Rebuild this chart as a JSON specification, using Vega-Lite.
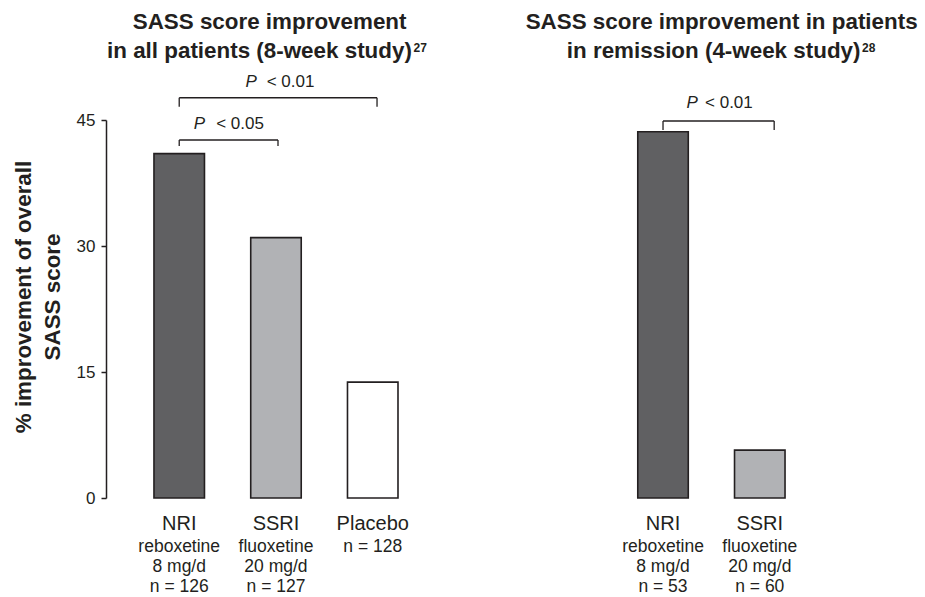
{
  "$schema": "https://vega.github.io/schema/vega-lite/v6.json",
  "width": 727,
  "height": 378,
  "autosize": "none",
  "padding": {"left": 106, "top": 120, "right": 92, "bottom": 99},
  "config": {"font": "Liberation Sans", "view": {"stroke": null}, "text": {"color": "#231f20"}},
  "datasets": {
    "bars": [
      {"study": "All patients (8-week study)", "slot": "L1", "group": "NRI", "sub": "reboxetine\n8 mg/d\nn = 126", "improvement": 41},
      {"study": "All patients (8-week study)", "slot": "L2", "group": "SSRI", "sub": "fluoxetine\n20 mg/d\nn = 127", "improvement": 31},
      {"study": "All patients (8-week study)", "slot": "L3", "group": "Placebo", "sub": "n = 128", "improvement": 13.8},
      {"study": "Patients in remission (4-week study)", "slot": "R1", "group": "NRI", "sub": "reboxetine\n8 mg/d\nn = 53", "improvement": 43.6},
      {"study": "Patients in remission (4-week study)", "slot": "R2", "group": "SSRI", "sub": "fluoxetine\n20 mg/d\nn = 60", "improvement": 5.7}
    ]
  },
  "data": {"name": "bars"},
  "encoding": {
    "x": {"field": "slot", "type": "nominal", "scale": {"type": "band", "domain": ["L1", "L2", "L3", "G1", "G2", "R1", "R2"], "paddingInner": 0.478, "paddingOuter": 0.4957}, "axis": null}
  },
  "layer": [
    {
      "mark": {"type": "bar", "stroke": "#231f20", "strokeWidth": 1.6},
      "encoding": {
        "y": {
          "field": "improvement", "type": "quantitative",
          "scale": {"domain": [0, 45], "nice": false, "zero": true},
          "axis": {
            "values": [0, 15, 30, 45], "grid": false,
            "title": ["% improvement of overall", "SASS score"],
            "titleFontSize": 22.4, "titleFontWeight": "bold", "titleColor": "#231f20",
            "titleLineHeight": 29, "titleX": -75.5, "titleY": 176.5, "titleBaseline": "alphabetic",
            "titleFont": "Liberation Sans",
            "labelFont": "Liberation Sans", "labelFontSize": 17, "labelColor": "#231f20", "labelPadding": 6,
            "tickSize": 5, "tickColor": "#231f20", "tickWidth": 1.5,
            "domainColor": "#231f20", "domainWidth": 1.5
          }
        },
        "fill": {"field": "group", "type": "nominal", "scale": {"domain": ["NRI", "SSRI", "Placebo"], "range": ["#606062", "#b1b2b5", "#ffffff"]}, "legend": null}
      }
    },
    {
      "mark": {"type": "text", "fontSize": 20, "baseline": "alphabetic", "dy": 32},
      "encoding": {
        "y": {"datum": 0, "type": "quantitative", "scale": {"domain": [0, 45], "nice": false, "zero": true}},
        "text": {"field": "group"}
      }
    },
    {
      "mark": {"type": "text", "fontSize": 17.5, "baseline": "top", "dy": 40, "lineHeight": 20, "lineBreak": "\n"},
      "encoding": {
        "y": {"datum": 0, "type": "quantitative", "scale": {"domain": [0, 45], "nice": false, "zero": true}},
        "text": {"field": "sub"}
      }
    },
    {
      "data": {"values": [{"slot": "L1", "slot2": "L2", "p": "P", "comparison": "< 0.05"}]},
      "layer": [
        {"mark": {"type": "rule", "color": "#231f20", "strokeWidth": 1.3},
         "encoding": {"x": {"field": "slot2", "type": "nominal", "bandPosition": 0.54, "scale": {"type": "band", "domain": ["L1", "L2", "L3", "G1", "G2", "R1", "R2"], "paddingInner": 0.478, "paddingOuter": 0.4957}, "axis": null},
                      "x2": {"field": "slot"},
                      "y": {"datum": 42.62, "type": "quantitative", "scale": {"domain": [0, 45], "nice": false, "zero": true}}}},
        {"mark": {"type": "rule", "color": "#231f20", "strokeWidth": 1.3},
         "encoding": {"y": {"datum": 42.62, "type": "quantitative", "scale": {"domain": [0, 45], "nice": false, "zero": true}}, "y2": {"datum": 41.9}}},
        {"mark": {"type": "rule", "color": "#231f20", "strokeWidth": 1.3},
         "encoding": {"x": {"field": "slot2", "type": "nominal", "bandPosition": 0.54, "scale": {"type": "band", "domain": ["L1", "L2", "L3", "G1", "G2", "R1", "R2"], "paddingInner": 0.478, "paddingOuter": 0.4957}, "axis": null},
                      "y": {"datum": 42.62, "type": "quantitative", "scale": {"domain": [0, 45], "nice": false, "zero": true}}, "y2": {"datum": 41.9}}},
        {"mark": {"type": "text", "fontSize": 17, "fontStyle": "italic", "align": "left", "baseline": "alphabetic", "dx": 14.5},
         "encoding": {"y": {"datum": 43.9, "type": "quantitative", "scale": {"domain": [0, 45], "nice": false, "zero": true}}, "text": {"field": "p"}}},
        {"mark": {"type": "text", "fontSize": 17, "align": "left", "baseline": "alphabetic", "dx": 37},
         "encoding": {"y": {"datum": 43.9, "type": "quantitative", "scale": {"domain": [0, 45], "nice": false, "zero": true}}, "text": {"field": "comparison"}}}
      ]
    },
    {
      "data": {"values": [{"slot": "L1", "slot2": "L3", "p": "P", "comparison": "< 0.01"}]},
      "layer": [
        {"mark": {"type": "rule", "color": "#231f20", "strokeWidth": 1.3},
         "encoding": {"x": {"field": "slot2", "type": "nominal", "bandPosition": 0.585, "scale": {"type": "band", "domain": ["L1", "L2", "L3", "G1", "G2", "R1", "R2"], "paddingInner": 0.478, "paddingOuter": 0.4957}, "axis": null},
                      "x2": {"field": "slot"},
                      "y": {"datum": 47.65, "type": "quantitative", "scale": {"domain": [0, 45], "nice": false, "zero": true}}}},
        {"mark": {"type": "rule", "color": "#231f20", "strokeWidth": 1.3},
         "encoding": {"y": {"datum": 47.65, "type": "quantitative", "scale": {"domain": [0, 45], "nice": false, "zero": true}}, "y2": {"datum": 46.58}}},
        {"mark": {"type": "rule", "color": "#231f20", "strokeWidth": 1.3},
         "encoding": {"x": {"field": "slot2", "type": "nominal", "bandPosition": 0.585, "scale": {"type": "band", "domain": ["L1", "L2", "L3", "G1", "G2", "R1", "R2"], "paddingInner": 0.478, "paddingOuter": 0.4957}, "axis": null},
                      "y": {"datum": 47.65, "type": "quantitative", "scale": {"domain": [0, 45], "nice": false, "zero": true}}, "y2": {"datum": 46.58}}},
        {"mark": {"type": "text", "fontSize": 17, "fontStyle": "italic", "align": "left", "baseline": "alphabetic", "dx": 66.3},
         "encoding": {"y": {"datum": 48.89, "type": "quantitative", "scale": {"domain": [0, 45], "nice": false, "zero": true}}, "text": {"field": "p"}}},
        {"mark": {"type": "text", "fontSize": 17, "align": "left", "baseline": "alphabetic", "dx": 87.5},
         "encoding": {"y": {"datum": 48.89, "type": "quantitative", "scale": {"domain": [0, 45], "nice": false, "zero": true}}, "text": {"field": "comparison"}}}
      ]
    },
    {
      "data": {"values": [{"slot": "R1", "slot2": "R2", "p": "P", "comparison": "< 0.01"}]},
      "layer": [
        {"mark": {"type": "rule", "color": "#231f20", "strokeWidth": 1.3},
         "encoding": {"x": {"field": "slot2", "type": "nominal", "bandPosition": 0.785, "scale": {"type": "band", "domain": ["L1", "L2", "L3", "G1", "G2", "R1", "R2"], "paddingInner": 0.478, "paddingOuter": 0.4957}, "axis": null},
                      "x2": {"field": "slot"},
                      "y": {"datum": 44.88, "type": "quantitative", "scale": {"domain": [0, 45], "nice": false, "zero": true}}}},
        {"mark": {"type": "rule", "color": "#231f20", "strokeWidth": 1.3},
         "encoding": {"y": {"datum": 44.88, "type": "quantitative", "scale": {"domain": [0, 45], "nice": false, "zero": true}}, "y2": {"datum": 43.81}}},
        {"mark": {"type": "rule", "color": "#231f20", "strokeWidth": 1.3},
         "encoding": {"x": {"field": "slot2", "type": "nominal", "bandPosition": 0.785, "scale": {"type": "band", "domain": ["L1", "L2", "L3", "G1", "G2", "R1", "R2"], "paddingInner": 0.478, "paddingOuter": 0.4957}, "axis": null},
                      "y": {"datum": 44.88, "type": "quantitative", "scale": {"domain": [0, 45], "nice": false, "zero": true}}, "y2": {"datum": 43.81}}},
        {"mark": {"type": "text", "fontSize": 17, "fontStyle": "italic", "align": "left", "baseline": "alphabetic", "dx": 23.6},
         "encoding": {"y": {"datum": 46.4, "type": "quantitative", "scale": {"domain": [0, 45], "nice": false, "zero": true}}, "text": {"field": "p"}}},
        {"mark": {"type": "text", "fontSize": 17, "align": "left", "baseline": "alphabetic", "dx": 42},
         "encoding": {"y": {"datum": 46.4, "type": "quantitative", "scale": {"domain": [0, 45], "nice": false, "zero": true}}, "text": {"field": "comparison"}}}
      ]
    },
    {
      "data": {"values": [{"slot": "L2", "t": "SASS score improvement"}]},
      "mark": {"type": "text", "fontSize": 22.4, "fontWeight": "bold", "align": "center", "baseline": "alphabetic", "dx": -6.4},
      "encoding": {"y": {"datum": 55.83, "type": "quantitative", "scale": {"domain": [0, 45], "nice": false, "zero": true}}, "text": {"field": "t"}}
    },
    {
      "data": {"values": [{"slot": "L1", "t": "in all patients (8-week study)"}]},
      "mark": {"type": "text", "fontSize": 22.4, "fontWeight": "bold", "align": "left", "baseline": "alphabetic", "dx": -72.2},
      "encoding": {"y": {"datum": 52.38, "type": "quantitative", "scale": {"domain": [0, 45], "nice": false, "zero": true}}, "text": {"field": "t"}}
    },
    {
      "data": {"values": [{"slot": "L1", "t": "27"}]},
      "mark": {"type": "text", "fontSize": 12, "fontWeight": "bold", "align": "left", "baseline": "alphabetic", "dx": 234.3},
      "encoding": {"y": {"datum": 53.1, "type": "quantitative", "scale": {"domain": [0, 45], "nice": false, "zero": true}}, "text": {"field": "t"}}
    },
    {
      "data": {"values": [{"slot": "R1", "t": "SASS score improvement in patients"}]},
      "mark": {"type": "text", "fontSize": 22.4, "fontWeight": "bold", "align": "center", "baseline": "alphabetic", "dx": 58.6},
      "encoding": {"y": {"datum": 55.83, "type": "quantitative", "scale": {"domain": [0, 45], "nice": false, "zero": true}}, "text": {"field": "t"}}
    },
    {
      "data": {"values": [{"slot": "R1", "t": "in remission (4-week study)"}]},
      "mark": {"type": "text", "fontSize": 22.4, "fontWeight": "bold", "align": "left", "baseline": "alphabetic", "dx": -96.2},
      "encoding": {"y": {"datum": 52.38, "type": "quantitative", "scale": {"domain": [0, 45], "nice": false, "zero": true}}, "text": {"field": "t"}}
    },
    {
      "data": {"values": [{"slot": "R1", "t": "28"}]},
      "mark": {"type": "text", "fontSize": 12, "fontWeight": "bold", "align": "left", "baseline": "alphabetic", "dx": 199},
      "encoding": {"y": {"datum": 53.1, "type": "quantitative", "scale": {"domain": [0, 45], "nice": false, "zero": true}}, "text": {"field": "t"}}
    }
  ]
}
